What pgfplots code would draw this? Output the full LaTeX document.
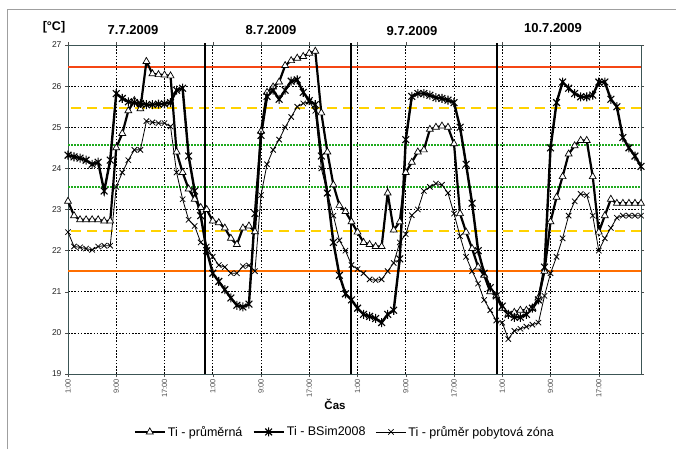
\documentclass[border=0pt]{standalone}
\usepackage{fontspec}
\setmainfont{Liberation Sans}
\usepackage{pgfplots}
\pgfplotsset{compat=1.18}
\usepackage{pgfplotstable}

\definecolor{limred}{RGB}{245,70,20}
\definecolor{limorange}{RGB}{255,110,0}
\definecolor{limyellow}{RGB}{255,210,0}
\definecolor{limgreen}{RGB}{30,170,30}
\definecolor{axframe}{RGB}{60,85,85}

% Excel-like star: x with a vertical bar
\pgfdeclareplotmark{xstar}{%
  \pgfpathmoveto{\pgfqpoint{0pt}{\pgfplotmarksize}}%
  \pgfpathlineto{\pgfqpoint{0pt}{-\pgfplotmarksize}}%
  \pgfpathmoveto{\pgfqpoint{-0.75\pgfplotmarksize}{0.75\pgfplotmarksize}}%
  \pgfpathlineto{\pgfqpoint{0.75\pgfplotmarksize}{-0.75\pgfplotmarksize}}%
  \pgfpathmoveto{\pgfqpoint{-0.75\pgfplotmarksize}{-0.75\pgfplotmarksize}}%
  \pgfpathlineto{\pgfqpoint{0.75\pgfplotmarksize}{0.75\pgfplotmarksize}}%
  \pgfusepathqstroke}

% h = hours from 1:00 on 7.7.2009; A = Ti - prumerna, B = Ti - BSim2008, C = Ti - prumer pobytova zona
\pgfplotstableread{
h A B C
0 23.20 24.32 22.45
1 22.85 24.28 22.10
2 22.75 24.25 22.08
3 22.75 24.20 22.05
4 22.75 24.10 22.02
5 22.75 24.15 22.10
6 22.72 23.45 22.12
7 22.72 24.20 22.12
8 24.50 25.82 23.55
9 24.85 25.70 23.90
10 25.40 25.62 24.20
11 25.65 25.60 24.45
12 25.45 25.58 24.45
13 26.60 25.55 25.15
14 26.30 25.55 25.12
15 26.28 25.56 25.10
16 26.27 25.57 25.10
17 26.25 25.60 25.02
18 24.40 25.90 23.90
19 23.90 25.95 23.25
20 23.50 24.30 22.75
21 23.25 23.45 22.60
22 23.05 22.85 22.20
23 23.00 22.00 22.10
24 22.72 21.45 21.85
25 22.68 21.25 21.65
26 22.55 21.05 21.60
27 22.30 20.85 21.45
28 22.15 20.67 21.45
29 22.55 20.63 21.62
30 22.60 20.70 21.64
31 22.46 22.90 21.50
32 24.90 24.80 23.35
33 25.85 25.75 24.10
34 25.98 25.90 24.45
35 26.10 25.68 24.70
36 26.50 25.90 25.00
37 26.62 26.12 25.25
38 26.68 26.15 25.50
39 26.72 25.85 25.58
40 26.80 25.65 25.62
41 26.85 25.55 25.40
42 25.35 24.30 24.00
43 24.40 23.40 23.40
44 23.60 22.20 22.85
45 23.10 21.40 22.25
46 22.95 20.95 22.00
47 22.70 20.80 21.65
48 22.45 20.60 21.55
49 22.20 20.45 21.45
50 22.15 20.40 21.30
51 22.10 20.35 21.28
52 22.10 20.25 21.30
53 23.40 20.45 21.50
54 22.50 20.55 21.70
55 22.70 21.80 22.20
56 23.90 24.70 22.40
57 24.15 25.75 22.86
58 24.40 25.82 23.00
59 24.45 25.82 23.45
60 24.95 25.78 23.55
61 25.00 25.72 23.63
62 25.03 25.70 23.60
63 25.00 25.66 23.40
64 24.60 25.60 22.90
65 22.90 25.00 22.35
66 22.45 24.10 21.85
67 22.05 23.15 21.50
68 21.60 22.00 21.20
69 21.40 21.45 20.80
70 21.00 21.10 20.55
71 20.90 20.90 20.30
72 20.60 20.65 20.25
73 20.45 20.45 19.85
74 20.50 20.38 20.05
75 20.55 20.38 20.10
76 20.55 20.45 20.15
77 20.60 20.60 20.20
78 20.85 20.80 20.25
79 21.50 21.60 20.90
80 22.70 24.50 21.45
81 23.30 25.60 21.85
82 23.80 26.10 22.30
83 24.35 25.95 22.85
84 24.55 25.82 23.20
85 24.68 25.74 23.38
86 24.68 25.74 23.35
87 23.80 25.78 22.85
88 22.45 26.10 22.00
89 22.85 26.10 22.30
90 23.25 25.68 22.55
91 23.15 25.50 22.80
92 23.15 24.75 22.85
93 23.15 24.50 22.85
94 23.15 24.30 22.85
95 23.15 24.05 22.85
}\temps

\begin{document}
\begin{tikzpicture}
\useasboundingbox (0pt,0pt) rectangle (676pt,-449pt);
\fill[white] (0pt,0pt) rectangle (676pt,-449pt);
\draw[gray!75, line width=1pt] (7.5pt,-449pt) -- (7.5pt,-10pt) -- (676pt,-10pt);
\begin{axis}[
  at={(68pt,-374pt)}, anchor=south west,
  scale only axis, width=573pt, height=329pt,
  xmin=0, xmax=95, ymin=19, ymax=27,
  xtick={0,8,...,88},
  xticklabels={1:00,9:00,17:00,1:00,9:00,17:00,1:00,9:00,17:00,1:00,9:00,17:00},
  ytick={19,20,...,27},
  grid=major,
  major grid style={black, dash pattern=on 1.6pt off 1.6pt, line width=0.55pt},
  axis line style={axframe, line width=0.9pt},
  tick align=outside, major tick length=3pt, tick style={black!70, line width=0.5pt},
  x tick label style={rotate=90, anchor=east, font=\fontsize{7.5}{8}\selectfont, text=black!70, inner sep=2pt},
  y tick label style={font=\fontsize{8.5}{10}\selectfont, text=black!85},
  /pgf/number format/assume math mode=true,
  clip=false,
  legend columns=3,
  legend style={at={(0.483,-0.176)}, anchor=center, draw=none, fill=none,
    font=\fontsize{12.5}{15}\selectfont,
    /tikz/every even column/.append style={column sep=8pt}},
  legend image code/.code={\draw[mark repeat=2,mark phase=2,#1] plot coordinates {(0pt,0pt) (15pt,0pt) (30pt,0pt)};},
]
% comfort limits
\addplot[limred, line width=1.6pt, forget plot] coordinates {(0,26.47) (95,26.47)};
\addplot[limorange, line width=1.6pt, forget plot] coordinates {(0,21.5) (95,21.5)};
\addplot[limyellow, line width=1.8pt, dash pattern=on 10pt off 6pt, forget plot] coordinates {(0.5,25.46) (95,25.46)};
\addplot[limyellow, line width=1.8pt, dash pattern=on 10pt off 6pt, forget plot] coordinates {(0.5,22.48) (95,22.48)};
\addplot[limgreen, line width=2pt, dash pattern=on 1.5pt off 1.5pt, forget plot] coordinates {(0,24.56) (95,24.56)};
\addplot[limgreen, line width=2pt, dash pattern=on 1.5pt off 1.5pt, forget plot] coordinates {(0,23.55) (95,23.55)};
% day separators
\addplot[black, line width=2pt, forget plot] coordinates {(22.75,19) (22.75,27.05)};
\addplot[black, line width=2pt, forget plot] coordinates {(46.85,19) (46.85,27.05)};
\addplot[black, line width=2pt, forget plot] coordinates {(71.05,19) (71.05,27.05)};
% series
\addplot[black, line width=2.2pt, mark=triangle*, mark size=4pt,
  mark options={solid, fill=white, draw=black, line width=0.7pt}] table[x=h, y=A] {\temps};
\addlegendentry{Ti - průměrná}
\addplot[black, line width=2.4pt, mark=xstar, mark size=4.5pt,
  mark options={solid, line width=1.1pt}] table[x=h, y=B] {\temps};
\addlegendentry{Ti - BSim2008}
\addplot[black, line width=0.8pt, mark=x, mark size=3.8pt,
  mark options={solid, line width=0.8pt}] table[x=h, y=C] {\temps};
\addlegendentry{Ti - průměr pobytová zóna}
\end{axis}
\node[font=\bfseries\fontsize{12.5}{14}\selectfont] at (54pt,-27pt) {[°C]};
\node[font=\bfseries\fontsize{13}{15}\selectfont] at (133pt,-30pt) {7.7.2009};
\node[font=\bfseries\fontsize{13}{15}\selectfont] at (271pt,-30pt) {8.7.2009};
\node[font=\bfseries\fontsize{13}{15}\selectfont] at (412pt,-31pt) {9.7.2009};
\node[font=\bfseries\fontsize{13}{15}\selectfont] at (553pt,-28pt) {10.7.2009};
\node[font=\bfseries\fontsize{11.5}{13}\selectfont] at (335pt,-404pt) {Čas};
\end{tikzpicture}
\end{document}
